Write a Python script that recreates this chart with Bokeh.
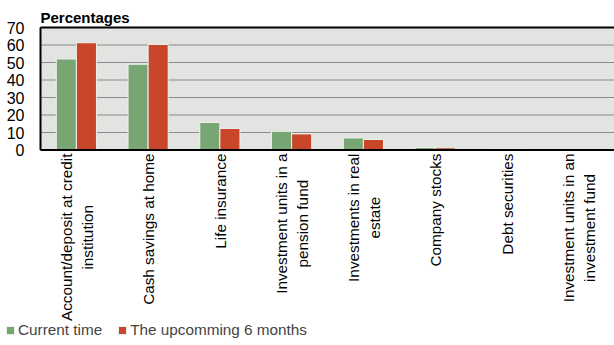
import math
from bokeh.plotting import figure
from bokeh.models import (Range1d, Legend, LegendItem, ColumnDataSource, BoxAnnotation)
from bokeh.core.properties import value
from bokeh.embed import file_html
from bokeh.resources import INLINE

categories = [
    "Account/deposit at credit\ninstitution",
    "Cash savings at home",
    "Life insurance",
    "Investment units in a\npension fund",
    "Investments in real\nestate",
    "Company stocks",
    "Debt securities",
    "Investment units in an\ninvestment fund",
]
current_time = [52.0, 49.0, 15.7, 10.7, 6.9, 1.4, 0.8, 0.1]
upcoming_6m = [61.3, 60.3, 12.3, 9.2, 6.0, 1.3, 0.8, 0.2]
y_ticks = [0, 10, 20, 30, 40, 50, 60, 70]
series_names = ["Current time", "The upcomming 6 months"]
title_text = "Percentages"

FONT = "Liberation Sans"
FS = 15.3
GREEN = "#77A672"
RED = "#C8472A"
BG = "#E1E4E1"

# Arial / Liberation Sans advance widths (1/1000 em), used to centre wrapped label lines
W = {" ": 278, "/": 278, "A": 667, "C": 722, "D": 722, "I": 278, "L": 556,
     "a": 556, "b": 556, "c": 500, "d": 556, "e": 556, "f": 278, "g": 556, "h": 556,
     "i": 222, "j": 222, "k": 500, "l": 222, "m": 833, "n": 556, "o": 556, "p": 556,
     "q": 556, "r": 333, "s": 500, "t": 278, "u": 556, "v": 500, "w": 722, "x": 500,
     "y": 500, "z": 500}


def text_px(s):
    return sum(W.get(ch, 556) for ch in s) / 1000.0 * FS


n = len(categories)
centers = [i + 0.5 for i in range(n)]
bw = 0.28
LEFT_PX = 40.0
FRAME_W = 614.0
x_start = -LEFT_PX / ((FRAME_W - LEFT_PX) / n)
PX_PER_UNIT = 1.75
y_top = 70 + 27 / PX_PER_UNIT
y_bottom = 70 - (345 - 27) / PX_PER_UNIT

p = figure(width=614, height=345, output_backend="svg", toolbar_location=None,
           x_range=Range1d(x_start, n), y_range=Range1d(y_bottom, y_top),
           x_axis_location=None, y_axis_location=None,
           min_border_left=0, min_border_right=0, min_border_top=0,
           min_border_bottom=0)

p.background_fill_color = "white"
p.border_fill_color = "white"
p.outline_line_color = None
p.xgrid.visible = False
p.ygrid.visible = False

# plot area background
p.add_layout(BoxAnnotation(left=0, bottom=0, top=70, fill_color=BG, fill_alpha=1,
                           line_color=None, level="image"))

# dotted horizontal gridlines
p.segment(x0=[0] * len(y_ticks), x1=[n] * len(y_ticks), y0=y_ticks, y1=y_ticks,
          line_color="#333333", line_dash="1 1", line_width=1)

src = ColumnDataSource(dict(
    xc=[c - bw / 2 for c in centers], xu=[c + bw / 2 for c in centers],
    cur=current_time, up=upcoming_6m))
r1 = p.vbar(x="xc", top="cur", width=bw, source=src,
            fill_color=GREEN, line_color="#EEF0EE", line_width=1)
r2 = p.vbar(x="xu", top="up", width=bw, source=src,
            fill_color=RED, line_color="#EEF0EE", line_width=1)

# frame borders (left, top, bottom)
p.segment(x0=[0], y0=[0], x1=[0], y1=[70], line_color="black", line_width=2)
p.segment(x0=[0, 0], y0=[0, 70], x1=[n, n], y1=[0, 70], line_color="black", line_width=2)

# title
p.text(x=[0], y=[70], text=[title_text], y_offset=-10, text_align="left",
       text_baseline="alphabetic", text_font=value(FONT), text_font_size="15px",
       text_font_style="bold", text_color="black")

# y tick labels
p.text(x=[0] * len(y_ticks), y=y_ticks, text=[str(t) for t in y_ticks],
       x_offset=-16, text_align="right", text_baseline="middle",
       text_font=value(FONT), text_font_size="16px", text_color="black")

# category labels: first line ends at the axis, second line centred on the first
STANDOFF = 3.5
LINE_GAP = 20.5
l1_x, l1_txt, l1_dx = [], [], []
l2_x, l2_txt, l2_dx, l2_dy = [], [], [], []
for c, xc in zip(categories, centers):
    parts = c.split("\n")
    if len(parts) == 1:
        l1_x.append(xc); l1_txt.append(parts[0]); l1_dx.append(0.5)
    else:
        l1_x.append(xc); l1_txt.append(parts[0]); l1_dx.append(-LINE_GAP / 2 + 0.5)
        l2_x.append(xc); l2_txt.append(parts[1]); l2_dx.append(LINE_GAP / 2 + 0.5)
        l2_dy.append(STANDOFF + text_px(parts[0]) / 2)

src1 = ColumnDataSource(dict(x=l1_x, y=[0] * len(l1_x), t=l1_txt, dx=l1_dx))
src2 = ColumnDataSource(dict(x=l2_x, y=[0] * len(l2_x), t=l2_txt, dx=l2_dx, dy=l2_dy))
p.text(x="x", y="y", text="t", source=src1, angle=math.pi / 2, x_offset="dx",
       y_offset=STANDOFF, text_align="right", text_baseline="middle",
       text_font=value(FONT), text_font_size=f"{FS}px", text_color="black")
p.text(x="x", y="y", text="t", source=src2, angle=math.pi / 2, x_offset="dx",
       y_offset="dy", text_align="center", text_baseline="middle",
       text_font=value(FONT), text_font_size=f"{FS}px", text_color="black")

legend = Legend(items=[LegendItem(label=series_names[0], renderers=[r1]),
                       LegendItem(label=series_names[1], renderers=[r2])],
                orientation="horizontal", location=(5, 6),
                label_text_font=FONT, label_text_font_size=f"{FS}px",
                glyph_width=10, glyph_height=10, label_standoff=3, spacing=15,
                padding=0, margin=0, border_line_color=None,
                background_fill_alpha=0, label_height=12)
p.add_layout(legend)

open("out.html", "w").write(file_html(p, INLINE))
